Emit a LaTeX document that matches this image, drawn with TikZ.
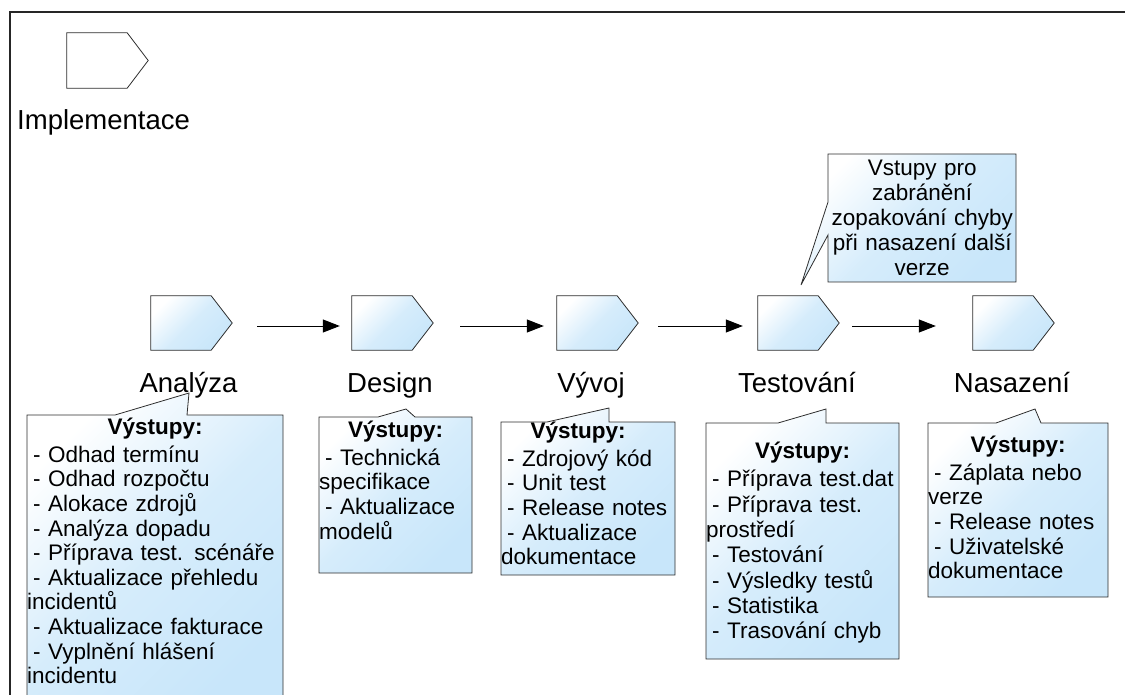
\documentclass[tikz,border=0pt]{standalone}
\usepackage{fontspec}
\setmainfont{Liberation Sans}
\usetikzlibrary{arrows.meta}

\definecolor{svmodra}{RGB}{200,230,250}
\definecolor{obrys}{RGB}{45,45,45}

% radky v poznamkach
\newcommand{\bod}[1]{\hbox{\hspace*{6pt}- #1}}
\newcommand{\pokr}[1]{\hbox{#1}}
\newcommand{\vystupy}{\centerline{\strut\bfseries\smash{Výstupy:}}\vskip3.4pt}

\begin{document}
\begin{tikzpicture}[x=1pt,y=-1pt,
  faze/.style={minimum width=81pt,minimum height=54pt,inner sep=0pt},
  vypln/.style={draw=obrys,line width=0.8pt,shading=axis,top color=white,bottom color=svmodra,middle color=svmodra!75,shading angle=45},
  sipka/.style={-{Triangle[length=17pt,width=13pt]},line width=1pt},
  stitek/.style={anchor=base,inner sep=0pt,font=\fontsize{27.5}{33}\selectfont},
  popis/.style={anchor=north west,inner sep=0pt,font=\fontsize{22.5}{24.6}\selectfont},
  ramec/.style={line width=1.3pt,draw=black!85}]
  \useasboundingbox (0,0) rectangle (1125,695);
  \clip (0,0) rectangle (1125,695);
  % ramecek
  \draw[ramec] (1130,12) -- (10,12) -- (10,700);
  % legenda
  \node[faze,minimum height=55pt] (legenda) at (107.5,60.5) {};
  \draw[draw=obrys,line width=0.8pt,fill=white] (legenda.north west) -- ([xshift=-21pt]legenda.north east)
    -- (legenda.east) -- ([xshift=-21pt]legenda.south east) -- (legenda.south west) -- cycle;
  \node[stitek,anchor=base west] (implementace) at (17,130) {Implementace};
  % faze procesu
  \foreach \jm/\x in {analyza/151,design/352,vyvoj/557,testovani/758,nasazeni/973} {
    \node[faze] (\jm) at (\x+40.5,323) {};
    \path[vypln] (\jm.north west) -- ([xshift=-21pt]\jm.north east) -- (\jm.east)
      -- ([xshift=-21pt]\jm.south east) -- (\jm.south west) -- cycle;
  }
  \foreach \a/\b/\s/\e in {analyza/design/25/12,design/vyvoj/27/13,vyvoj/testovani/20/15,testovani/nasazeni/13/37}
    \draw[sipka] ([xshift=\s pt,yshift=-3pt]\a.east) -- ([xshift=-\e pt,yshift=-3pt]\b.west);
  \node[stitek] (analyzaT) at (188.5,392) {Analýza};
  \node[stitek] (designT) at (390,392) {Design};
  \node[stitek] (vyvojT) at (591,392) {Vývoj};
  \node[stitek] (testovaniT) at (797,392) {Testování};
  \node[stitek] (nasazeniT) at (1012,392) {Nasazení};
  % poznamky s vystupy
  \path[vypln] (27,710) -- (27,415) -- (115,415) -- (189,393) -- (187,415) -- (283,415) -- (283,710) -- cycle;
  \path[vypln] (319,573) -- (319,417) -- (378,417) -- (406,409) -- (415,417) -- (472,417) -- (472,573) -- cycle;
  \path[vypln] (501,575) -- (501,422) -- (547,422) -- (609,408) -- (609,422) -- (675,422) -- (675,575) -- cycle;
  \path[vypln] (706,659) -- (706,423) -- (778,423) -- (826,409) -- (826,423) -- (899,423) -- (899,659) -- cycle;
  \path[vypln] (928,597) -- (928,423) -- (996,423) -- (1035,409) -- (1041,423) -- (1108,423) -- (1108,597) -- cycle;
  \path[vypln] (828,154) -- (1016,154) -- (1016,282) -- (828,282) -- (828,235) -- (801,285) -- (828,202) -- cycle;
  \node[popis,text width=256pt] (vystAnalyza) at (27,416.8) {\vystupy
    \bod{Odhad termínu}
    \bod{Odhad rozpočtu}
    \bod{Alokace zdrojů}
    \bod{Analýza dopadu}
    \bod{Příprava test. scénáře}
    \bod{Aktualizace přehledu}
    \pokr{incidentů}
    \bod{Aktualizace fakturace}
    \bod{Vyplnění hlášení}
    \pokr{incidentu}};
  \node[popis,text width=153pt] (vystDesign) at (319,419.8) {\vystupy
    \bod{Technická}
    \pokr{specifikace}
    \bod{Aktualizace}
    \pokr{modelů}};
  \node[popis,text width=154pt] (vystVyvoj) at (501,420.8) {\vystupy
    \bod{Zdrojový kód}
    \bod{Unit test}
    \bod{Release notes}
    \bod{Aktualizace}
    \pokr{dokumentace}};
  \node[popis,text width=193pt,font=\fontsize{22.5}{25.3}\selectfont] (vystTestovani) at (706,440.3) {\vystupy
    \bod{Příprava test.dat}
    \bod{Příprava test.}
    \pokr{prostředí}
    \bod{Testování}
    \bod{Výsledky testů}
    \bod{Statistika}
    \bod{Trasování chyb}};
  \node[popis,text width=180pt] (vystNasazeni) at (928,434.8) {\vystupy
    \bod{Záplata nebo}
    \pokr{verze}
    \bod{Release notes}
    \bod{Uživatelské}
    \pokr{dokumentace}};
  \node[popis,text width=188pt,font=\fontsize{22.5}{25}\selectfont] (vstupy) at (828,157.5) {%
    \centerline{\strut Vstupy pro}
    \centerline{zabránění}
    \centerline{zopakování chyby}
    \centerline{při nasazení další}
    \centerline{verze}};
\end{tikzpicture}
\end{document}
